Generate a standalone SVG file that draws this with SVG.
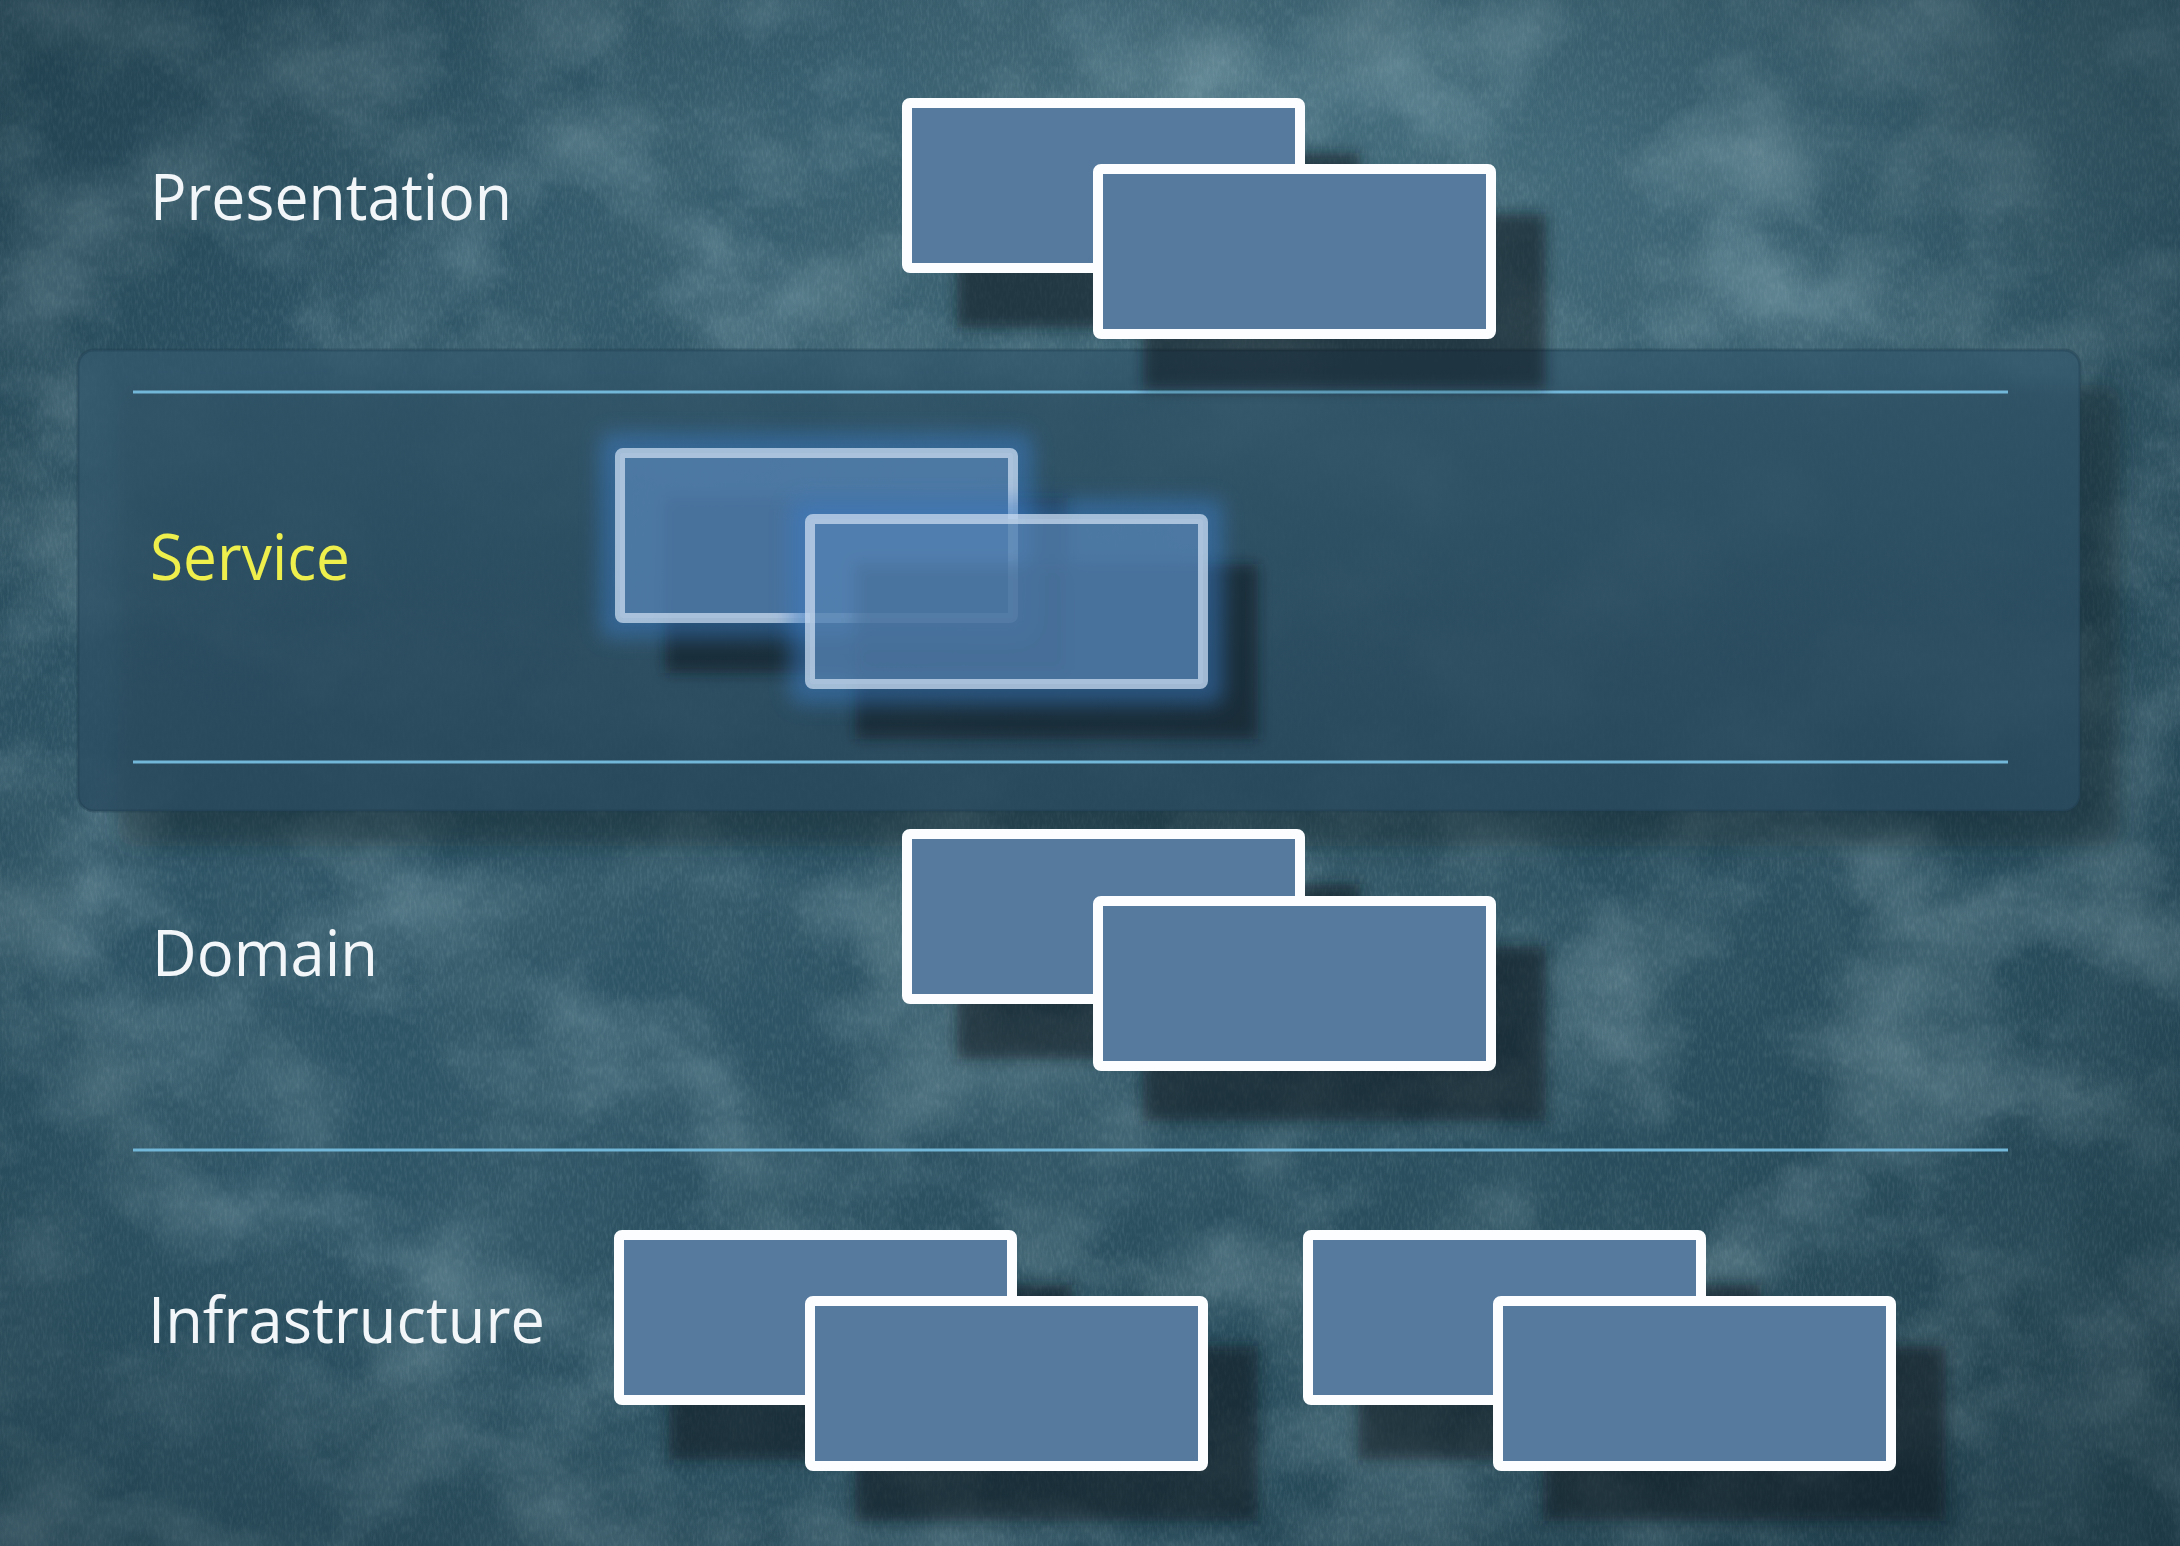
<svg xmlns="http://www.w3.org/2000/svg" width="2180" height="1546" viewBox="0 0 2180 1546">
<defs>
<linearGradient id="bgGrad" x1="0" y1="0" x2="1" y2="1">
<stop offset="0" stop-color="#2b5162"/>
<stop offset="0.45" stop-color="#2e5566"/>
<stop offset="1" stop-color="#254654"/>
</linearGradient>
<radialGradient id="lightSpot" cx="0.62" cy="0.06" r="0.5">
<stop offset="0" stop-color="#5a8492" stop-opacity="0.5"/>
<stop offset="1" stop-color="#5a8492" stop-opacity="0"/>
</radialGradient>
<radialGradient id="vignette" cx="0.5" cy="0.5" r="0.75">
<stop offset="0.6" stop-color="#0d1f28" stop-opacity="0"/>
<stop offset="1" stop-color="#0d1f28" stop-opacity="0.4"/>
</radialGradient>
<filter id="texLight" x="0" y="0" width="100%" height="100%">
<feTurbulence type="fractalNoise" baseFrequency="0.006 0.008" numOctaves="6" seed="7"/>
<feColorMatrix type="matrix" values="0 0 0 0 0.42  0 0 0 0 0.6  0 0 0 0 0.66  1.8 0 0 0 -0.78"/>
</filter>
<filter id="texDark" x="0" y="0" width="100%" height="100%">
<feTurbulence type="fractalNoise" baseFrequency="0.007 0.005" numOctaves="5" seed="21"/>
<feColorMatrix type="matrix" values="0 0 0 0 0.06  0 0 0 0 0.14  0 0 0 0 0.18  0 1.8 0 0 -0.72"/>
</filter>
<filter id="grain" x="0" y="0" width="100%" height="100%">
<feTurbulence type="fractalNoise" baseFrequency="0.4 0.12" numOctaves="2" seed="4"/>
<feColorMatrix type="matrix" values="0 0 0 0 0.55  0 0 0 0 0.7  0 0 0 0 0.75  0 0 1.2 0 -0.5"/>
</filter>
<filter id="shadow" x="-20%" y="-20%" width="140%" height="140%">
<feGaussianBlur stdDeviation="7"/>
</filter>
<filter id="panelShadow" x="-10%" y="-20%" width="120%" height="140%">
<feGaussianBlur stdDeviation="12"/>
</filter>
<filter id="glow" x="-20%" y="-30%" width="140%" height="160%">
<feGaussianBlur stdDeviation="10"/>
</filter>
<linearGradient id="panelGrad" x1="0" y1="0" x2="0" y2="1">
<stop offset="0" stop-color="#33586d"/>
<stop offset="1" stop-color="#2a4b60"/>
</linearGradient>
<style>
.lbl{font-family:"Open Sans","Noto Sans","DejaVu Sans",sans-serif;font-size:64px;font-weight:500;fill:#f3f6f8}
.svc{fill:#eeee4c}
.box{fill:#56799e;stroke:#fbfdff;stroke-width:10}
.sbox{fill:#5a82ac;fill-opacity:0.62;stroke:#c9dbef;stroke-opacity:0.75;stroke-width:10}
.shd{fill:#08161d;opacity:0.55}
.sep{stroke:#72b6d8;stroke-width:3}
</style>
</defs>

<!-- background -->
<rect x="0" y="0" width="2180" height="1546" fill="url(#bgGrad)"/>
<rect x="0" y="0" width="2180" height="1546" fill="url(#lightSpot)"/>
<rect x="0" y="0" width="2180" height="1546" filter="url(#texLight)" opacity="0.45"/>
<rect x="0" y="0" width="2180" height="1546" filter="url(#texDark)" opacity="0.55"/>
<rect x="0" y="0" width="2180" height="1546" filter="url(#grain)" opacity="0.2"/>
<rect x="0" y="0" width="2180" height="1546" fill="url(#vignette)"/>

<!-- service band panel -->
<g id="service-band">
<rect x="118" y="385" width="2002" height="461" rx="16" fill="#0a1a22" opacity="0.4" filter="url(#panelShadow)"/>
<rect x="78" y="350" width="2002" height="461" rx="16" fill="url(#panelGrad)" fill-opacity="0.8" stroke="#1c3a4a" stroke-opacity="0.35" stroke-width="3"/>
</g>

<g id="separators">
<line class="sep" x1="133" y1="392" x2="2008" y2="392"/>
<line class="sep" x1="133" y1="762" x2="2008" y2="762"/>
<line class="sep" x1="133" y1="1150" x2="2008" y2="1150"/>
</g>

<g id="presentation">
<rect class="shd" x="957" y="153" width="403" height="175" filter="url(#shadow)"/>
<rect class="box" x="907" y="103" width="393" height="165" rx="3"/>
<rect class="shd" x="1143" y="214" width="403" height="175" filter="url(#shadow)"/>
<rect class="box" x="1098" y="169" width="393" height="165" rx="3"/>
<text class="lbl" x="150" y="220" textLength="362" lengthAdjust="spacingAndGlyphs">Presentation</text>
</g>

<g id="service">
<rect class="shd" x="665" y="498" width="403" height="175" filter="url(#shadow)" opacity="0.45"/>
<rect x="600" y="433" width="433" height="205" rx="12" fill="#3a7cc4" opacity="0.5" filter="url(#glow)"/>
<rect class="sbox" x="620" y="453" width="393" height="165" rx="3"/>
<rect class="shd" x="855" y="564" width="403" height="175" filter="url(#shadow)" opacity="0.45"/>
<rect x="790" y="499" width="433" height="205" rx="12" fill="#3a7cc4" opacity="0.5" filter="url(#glow)"/>
<rect class="sbox" x="810" y="519" width="393" height="165" rx="3"/>
<text class="lbl svc" x="150" y="580" textLength="200" lengthAdjust="spacingAndGlyphs">Service</text>
</g>

<g id="domain">
<rect class="shd" x="957" y="884" width="403" height="175" filter="url(#shadow)"/>
<rect class="box" x="907" y="834" width="393" height="165" rx="3"/>
<rect class="shd" x="1143" y="946" width="403" height="175" filter="url(#shadow)"/>
<rect class="box" x="1098" y="901" width="393" height="165" rx="3"/>
<text class="lbl" x="152" y="976" textLength="226" lengthAdjust="spacingAndGlyphs">Domain</text>
</g>

<g id="infrastructure">
<rect class="shd" x="669" y="1285" width="403" height="175" filter="url(#shadow)"/>
<rect class="box" x="619" y="1235" width="393" height="165" rx="3"/>
<rect class="shd" x="855" y="1346" width="403" height="175" filter="url(#shadow)"/>
<rect class="box" x="810" y="1301" width="393" height="165" rx="3"/>
<rect class="shd" x="1358" y="1285" width="403" height="175" filter="url(#shadow)"/>
<rect class="box" x="1308" y="1235" width="393" height="165" rx="3"/>
<rect class="shd" x="1543" y="1346" width="403" height="175" filter="url(#shadow)"/>
<rect class="box" x="1498" y="1301" width="393" height="165" rx="3"/>
<text class="lbl" x="148" y="1343" textLength="397" lengthAdjust="spacingAndGlyphs">Infrastructure</text>
</g>
</svg>
